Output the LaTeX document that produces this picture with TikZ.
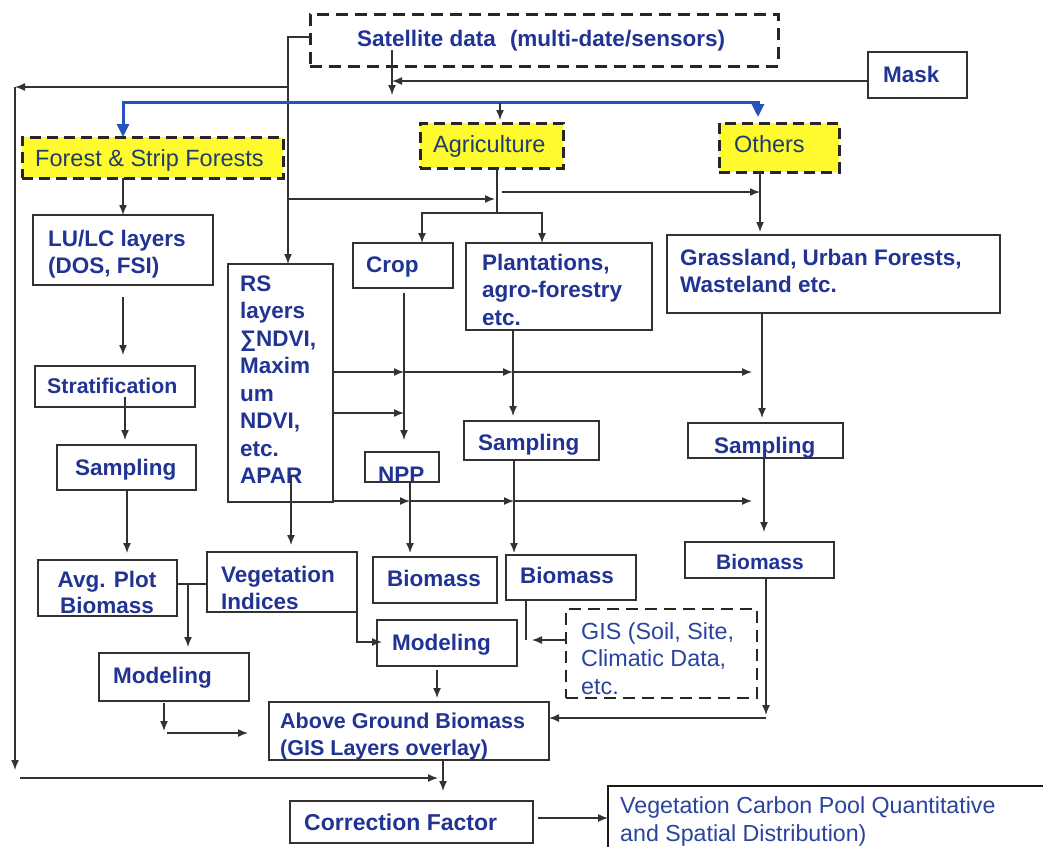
\documentclass[tikz,border=0pt]{standalone}
\usepackage{fontspec}
\setmainfont{Liberation Sans}
\usetikzlibrary{arrows.meta}

\definecolor{txtblue}{RGB}{33,52,148}
\definecolor{regblue}{RGB}{42,68,158}
\definecolor{hlblue}{RGB}{30,62,108}
\definecolor{linegray}{RGB}{50,50,50}
\definecolor{hlyellow}{RGB}{255,250,45}
\definecolor{arrowblue}{RGB}{38,82,190}

% multi-line text whose baseline is the first line
\newcommand\lstack[1]{\vtop{\halign{##\hfil\cr#1\crcr}}}
\newcommand\cstack[1]{\vtop{\halign{\hfil##\hfil\cr#1\crcr}}}
% box from its corners: [style]{name}{x1}{y1}{x2}{y2}
\newcommand\mkbox[6][]{\node[plainbox,#1,minimum width={#5-#3},minimum height={#6-#4}] (#2) at ({(#3+#5)/2},{(#4+#6)/2}) {};}

\tikzset{
  line/.style={draw=linegray, line width=1.4pt},
  arr/.style={line, -{Latex[length=10pt,width=8pt]}},
  bluearr/.style={draw=arrowblue, line width=3pt,
    {Triangle[length=13pt,width=12pt]}-{Triangle[length=13pt,width=12pt]}},
  plainbox/.style={draw=linegray, line width=1.4pt, rectangle, inner sep=0pt, outer sep=0pt},
  dashbox/.style={draw=black!85, line width=3pt, dash pattern=on 12pt off 7pt},
  hlbox/.style={draw=black!85, fill=hlyellow, line width=3pt, dash pattern=on 11pt off 6pt},
  gisbox/.style={draw=black!85, line width=2.6pt, dash pattern=on 12pt off 7pt},
  tb/.style={inner sep=0pt, anchor=base west, text=txtblue,
    font=\bfseries\fontsize{22.5}{27.5}\selectfont},
  tr/.style={inner sep=0pt, anchor=base west, text=regblue,
    font=\fontsize{23.3}{27.5}\selectfont},
  th/.style={inner sep=0pt, anchor=base west, text=hlblue,
    font=\fontsize{23.5}{27.5}\selectfont},
}

\begin{document}
\begin{tikzpicture}[x=1pt,y=-1pt]
\useasboundingbox (0,0) rectangle (1043,846);
\fill[white] (0,0) rectangle (1043,846);
\clip (0,0) rectangle (1043,846);

% ---------- boxes ----------
\mkbox[dashbox]{sat}{310}{14}{778}{66}
\mkbox{mask}{868}{52}{967}{98}
\mkbox[hlbox]{forest}{22}{137}{283}{178}
\mkbox[hlbox]{agri}{420}{123}{563}{168}
\mkbox[hlbox]{others}{719}{123}{839}{172}
\mkbox{lulc}{33}{215}{213}{285}
\mkbox{rs}{228}{264}{333}{502}
\mkbox{crop}{353}{243}{453}{288}
\mkbox{plant}{466}{243}{652}{330}
\mkbox{grass}{667}{235}{1000}{313}
\mkbox{strat}{35}{366}{195}{407}
\mkbox{sampl}{57}{445}{196}{490}
\mkbox{npp}{365}{452}{439}{482}
\mkbox{sampm}{464}{421}{599}{460}
\mkbox{sampr}{688}{423}{843}{458}
\mkbox{avg}{38}{560}{177}{616}
\mkbox{veg}{207}{552}{357}{612}
\mkbox{biom1}{373}{557}{497}{603}
\mkbox{biom2}{506}{555}{636}{600}
\mkbox{biomr}{685}{542}{834}{578}
\mkbox{modl}{99}{653}{249}{701}
\mkbox{modm}{377}{620}{517}{666}
\mkbox[gisbox]{gis}{566}{609}{757}{698}
\mkbox{agb}{269}{702}{549}{760}
\mkbox{cf}{290}{801}{533}{843}
\mkbox[draw=black!90,line width=2.6pt]{vcp}{608}{786}{1080}{880}

% ---------- texts ----------
\node[tb] (t-sat) at (357,46) {Satellite data\hspace{14pt}(multi-date/sensors)};
\node[tb] (t-mask) at (883,82) {Mask};
\node[th] (t-forest) at (35,166) {Forest \& Strip Forests};
\node[th] (t-agri) at (433,152) {Agriculture};
\node[th] (t-others) at (734,152) {Others};
\node[tb] (t-lulc) at (48,246) {\lstack{LU/LC layers\cr (DOS, FSI)}};
\node[tb, font=\bfseries\fontsize{21.3}{27}\selectfont] (t-strat) at (47,393) {Stratification};
\node[tb] (t-sampl) at (75,475) {Sampling};
\node[tb] (t-rs) at (240,291) {\lstack{RS\cr layers\cr ∑NDVI,\cr Maxim\cr um\cr NDVI,\cr etc.\cr APAR}};
\node[tb] (t-crop) at (366,272) {Crop};
\node[tb] (t-plant) at (482,270) {\lstack{Plantations,\cr agro-forestry\cr etc.}};
\node[tb] (t-grass) at (680,265) {\lstack{Grassland, Urban Forests,\cr Wasteland etc.}};
\node[tb] (t-sampm) at (478,450) {Sampling};
\node[tb] (t-sampr) at (714,453) {Sampling};
\node[tb] (t-npp) at (378,482) {NPP};
\node[tb] (t-biom1) at (387,586) {Biomass};
\node[tb] (t-biom2) at (520,583) {Biomass};
\node[tb, font=\bfseries\fontsize{21}{27}\selectfont] (t-biomr) at (716,569) {Biomass};
\node[tb, anchor=base, font=\bfseries\fontsize{22.5}{26}\selectfont] (t-avg) at (107,587) {\cstack{Avg. Plot\cr Biomass}};
\node[tb] (t-veg) at (221,582) {\lstack{Vegetation\cr Indices}};
\node[tb] (t-modl) at (113,683) {Modeling};
\node[tb] (t-modm) at (392,650) {Modeling};
\node[tr] (t-gis) at (581,639) {\lstack{GIS (Soil, Site,\cr Climatic Data,\cr etc.}};
\node[tb, font=\bfseries\fontsize{21.5}{27}\selectfont] (t-agb) at (280,728) {\lstack{Above Ground Biomass\cr (GIS Layers overlay)}};
\node[tb, font=\bfseries\fontsize{23}{27}\selectfont] (t-cf) at (304,830) {Correction Factor};
\node[tr, font=\fontsize{23.2}{28}\selectfont] (t-vcp) at (620,813) {\lstack{Vegetation Carbon Pool Quantitative\cr and Spatial Distribution)}};

% ---------- junction points ----------
\coordinate (jrs) at (288,37);
\coordinate (jl) at (15,87);
\coordinate (jlb) at (15,770);
\coordinate (jb) at (20,778);
\coordinate (jcf) at (438,778);
\coordinate (xcf) at (443,778);
\coordinate (jmask) at (392,81);
\coordinate (jsat) at (392,95);
\coordinate (bl) at (123,102);
\coordinate (br) at (758,102);
\coordinate (jag) at (500,103);
\coordinate (jst) at (497,213);
\coordinate (jrs2) at (288,199);
\coordinate (kO1) at (502,192);
\coordinate (kO2) at (760,192);
\coordinate (xl) at (123,200);
\coordinate (xl2) at (125,400);
\coordinate (xl3) at (127,500);
\coordinate (jav) at (188,584);
\coordinate (xml) at (164,733);
\coordinate (jm3) at (248,733);
\coordinate (xrs) at (291,520);
\coordinate (h1) at (340,372);
\coordinate (h2) at (340,413);
\coordinate (h3) at (340,501);
\coordinate (xcrop) at (404,400);
\coordinate (xnpp) at (410,500);
\coordinate (xplant) at (513,400);
\coordinate (xsm) at (514,500);
\coordinate (xr) at (752,400);
\coordinate (xgs) at (762,400);
\coordinate (xsr) at (764,500);
\coordinate (jbr) at (766,718);
\coordinate (jveg) at (357,642);
\coordinate (jb2) at (526,640);
\coordinate (xmm) at (437,680);
\coordinate (jcv) at (600,818);

% ---------- connectors ----------
\draw[arr] ([yshift=3pt]sat.west) -- (jrs) -- (jrs |- rs.north);
\draw[arr] (jl -| jrs) -- (jl);
\draw[arr] (jl) -- (jlb);
\draw[arr] (jb) -- (jcf);
\draw[arr, shorten >=10pt] (agb.south -| xcf) -- (cf.north -| xcf);
\draw[arr] (jmask -| mask.west) -- (jmask);
\draw[arr, shorten <=-16pt] (sat.south -| jsat) -- (jsat);
\draw[bluearr, shorten >=6pt] (forest.north -| bl) -- (bl) -- (br) -- (others.north -| br);
\draw[arr, shorten >=3pt] (jag) -- (agri.north -| jag);
\draw[line] (agri.south -| jst) -- (jst);
\draw[arr] (jst) -| ([xshift=19pt]crop.north);
\draw[arr] (jst) -| ([xshift=-17pt]plant.north);
\draw[arr, shorten >=2pt] (jrs2) -- (jrs2 -| jst);
\draw[arr] (kO1) -- (kO2);
\draw[arr, shorten >=3pt] (others.south -| kO2) -- (grass.north -| kO2);

\draw[arr] (forest.south -| xl) -- (lulc.north -| xl);
\draw[arr, shorten <=12pt, shorten >=11pt] (lulc.south -| xl) -- (strat.north -| xl);
\draw[arr, shorten <=-10pt, shorten >=5pt] (strat.south -| xl2) -- (sampl.north -| xl2);
\draw[arr, shorten >=7pt] (sampl.south -| xl3) -- (avg.north -| xl3);
\draw[line] (avg.east |- jav) -- (veg.west |- jav);
\draw[arr, shorten >=6pt] (jav) -- (modl.north -| jav);
\draw[arr, shorten <=2pt, shorten >=2pt] (modl.south -| xml) -- (xml);
\draw[arr] ([xshift=3pt]xml) -- (jm3);

\draw[arr, shorten <=-25pt, shorten >=7pt] (rs.south -| xrs) -- (veg.north -| xrs);
\draw[arr] (rs.east |- h1) -- (xcrop |- h1);
\draw[arr] (xcrop |- h1) -- (xplant |- h1);
\draw[arr] (xplant |- h1) -- (xr |- h1);
\draw[arr] (rs.east |- h2) -- (xcrop |- h2);
\draw[arr] (rs.east |- h3) -- (xnpp |- h3);
\draw[arr] (xnpp |- h3) -- (xsm |- h3);
\draw[arr] (xsm |- h3) -- (xr |- h3);

\draw[arr, shorten <=5pt, shorten >=12pt] (crop.south -| xcrop) -- (npp.north -| xcrop);
\draw[arr, shorten >=4pt] (npp.south -| xnpp) -- (biom1.north -| xnpp);
\draw[arr, shorten >=5pt] (plant.south -| xplant) -- (sampm.north -| xplant);
\draw[arr, shorten >=2pt] (sampm.south -| xsm) -- (biom2.north -| xsm);
\draw[arr, shorten >=5pt] (grass.south -| xgs) -- (sampr.north -| xgs);
\draw[arr, shorten >=10pt] (sampr.south -| xsr) -- (biomr.north -| xsr);
\draw[arr, shorten >=3pt] (biomr.south -| jbr) -- (jbr);
\draw[arr] (jbr) -- (agb.east |- jbr);

\draw[arr, shorten >=-5pt] (veg.south east) |- (modm.west |- jveg);
\draw[line] (biom2.south -| jb2) -- (jb2);
\draw[arr, shorten >=15pt] (gis.west |- jb2) -- (modm.east |- jb2);
\draw[arr, shorten <=4pt, shorten >=4pt] (modm.south -| xmm) -- (agb.north -| xmm);
\draw[arr, shorten <=5pt] (cf.east |- jcv) -- (vcp.west |- jcv);
\end{tikzpicture}
\end{document}
